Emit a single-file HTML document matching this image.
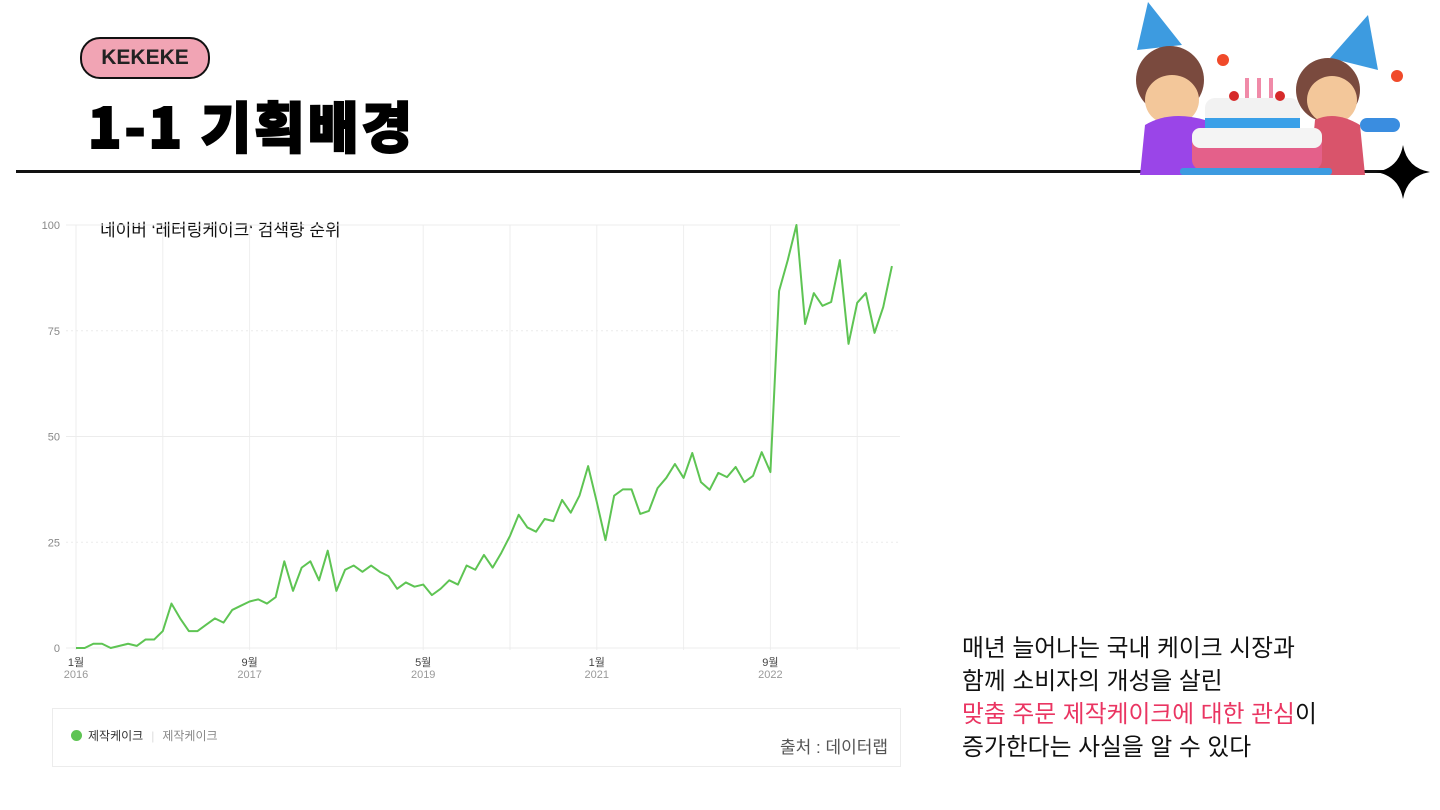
<!DOCTYPE html>
<html><head><meta charset="utf-8">
<style>
body{margin:0;width:1440px;height:810px;background:#fff;position:relative;overflow:hidden;font-family:"Liberation Sans","Noto Sans CJK KR",sans-serif;}
.abs{position:absolute;}
</style></head><body>
<div class="abs" style="left:80px;top:37px;width:126px;height:38px;border:2px solid #111;border-radius:20px;background:#f1a4b4;text-align:center;line-height:38px;font-weight:bold;font-size:21px;color:#222;">KEKEKE</div>
<div class="abs" style="left:88px;top:84px;font-size:55px;font-weight:900;letter-spacing:3px;color:#000;-webkit-text-stroke:2px #000;font-family:'Noto Sans CJK KR',sans-serif;">1-1 기획배경</div>
<div class="abs" style="left:16px;top:170px;width:1390px;height:3px;background:#111;"></div>
<svg class="abs" style="left:1120px;top:0" width="320" height="200">
 <path d="M283,145 Q287,168 310,172 Q287,176 283,199 Q279,176 256,172 Q279,168 283,145Z" fill="#000"/>
 <polygon points="17,50 28,2 62,45" fill="#3d9be0"/>
 <polygon points="210,58 248,15 258,70" fill="#3d9be0"/>
 <circle cx="50" cy="80" r="34" fill="#7a4a3e"/>
 <ellipse cx="52" cy="100" rx="27" ry="25" fill="#f3c79a"/>
 <path d="M20,175 L25,125 Q50,110 85,120 L90,175Z" fill="#9a45e8"/>
 <circle cx="208" cy="90" r="32" fill="#7a4a3e"/>
 <ellipse cx="212" cy="100" rx="25" ry="24" fill="#f3c79a"/>
 <path d="M190,175 L195,120 Q215,110 240,125 L245,175Z" fill="#d9546b"/>
 <rect x="240" y="118" width="40" height="14" rx="7" fill="#3a8de0"/>
 <rect x="85" y="98" width="95" height="30" rx="10" fill="#f2f2f2"/>
 <rect x="85" y="118" width="95" height="10" fill="#3aa0e8"/>
 <rect x="72" y="128" width="130" height="42" rx="10" fill="#e4608a"/>
 <rect x="72" y="128" width="130" height="20" rx="8" fill="#f4f4f4"/>
 <rect x="60" y="168" width="152" height="7" rx="3" fill="#3d9be0"/>
 <rect x="125" y="78" width="4" height="20" fill="#f08aa8"/><rect x="137" y="78" width="4" height="20" fill="#f08aa8"/><rect x="149" y="78" width="4" height="20" fill="#f08aa8"/>
 <circle cx="114" cy="96" r="5" fill="#d62a2a"/><circle cx="160" cy="96" r="5" fill="#d62a2a"/>
 <circle cx="103" cy="60" r="6" fill="#f04a2a"/><circle cx="277" cy="76" r="6" fill="#f04a2a"/>
</svg>

<div class="abs" style="left:100px;top:216px;font-size:17px;color:#111;">네이버 ‘레터링케이크‘ 검색량 순위</div>
<svg class="abs" id="chart" style="left:0;top:0" width="920" height="700"></svg>

<div class="abs" style="left:52px;top:708px;width:847px;height:57px;border:1px solid #ececec;"></div>
<div class="abs" style="left:71px;top:727px;font-size:12px;color:#333;"><span style="display:inline-block;width:11px;height:11px;border-radius:50%;background:#5ec453;vertical-align:-1px;margin-right:6px;"></span>제작케이크<span style="color:#ddd;margin:0 8px;">|</span><span style="color:#888;">제작케이크</span></div>
<div class="abs" style="left:780px;top:733px;font-size:17px;color:#555;">출처 : 데이터랩</div>

<div class="abs" style="left:962px;top:632px;font-size:23.8px;line-height:33px;color:#111;">매년 늘어나는 국내 케이크 시장과<br>함께 소비자의 개성을 살린<br><span style="color:#ea3562;">맞춤 주문 제작케이크에 대한 관심</span>이<br>증가한다는 사실을 알 수 있다</div>

<script>
const yTicks=[0,25,50,75,100];
const xTickMonths=[0,20,40,60,80];
const xTickLabels=["1월","9월","5월","1월","9월"];
const xTickYears=["2016","2017","2019","2021","2022"];
const values=[0,0,1,1,0,0.5,1,0.5,2,2,4,10.5,7,4,4,5.5,7,6,9,10,11,11.5,10.5,12,20.5,13.5,19,20.5,16,23,13.5,18.5,19.5,18,19.5,18,17,14,15.5,14.5,15,12.5,14,16,15,19.5,18.5,22,19,22.5,26.5,31.5,28.5,27.5,30.5,30,35,32,36,43,34.5,25.5,36,37.5,37.5,31.7,32.4,37.8,40.2,43.5,40.2,46.1,39.2,37.4,41.4,40.4,42.8,39.2,40.7,46.3,41.6,84.4,91.7,100,76.6,83.9,80.9,81.8,91.7,71.9,81.6,83.9,74.5,80.6,90.3];
const svg=document.getElementById('chart');const NS='http://www.w3.org/2000/svg';
const x=i=>76+i*8.68, y=v=>648-v*4.23;
function mk(t,a){const e=document.createElementNS(NS,t);for(const k in a)e.setAttribute(k,a[k]);svg.appendChild(e);return e;}
for(let m=0;m<=94;m+=10){const l=mk('line',{x1:x(m),x2:x(m),y1:225,y2:650,stroke:'#eeeeee','stroke-width':1});

}
yTicks.forEach(v=>{const g=mk('line',{x1:66,x2:900,y1:y(v),y2:y(v),stroke:'#ececec','stroke-width':1,'stroke-dasharray':(v%50? '2,3':'')});


const t=mk('text',{x:60,y:y(v)+4,'text-anchor':'end','font-size':11,fill:'#888'});t.textContent=v;

});
xTickMonths.forEach((m,i)=>{const t=mk('text',{x:x(m),y:666,'text-anchor':'middle','font-size':11,fill:'#444'});t.textContent=xTickLabels[i];


const t2=mk('text',{x:x(m),y:678,'text-anchor':'middle','font-size':11,fill:'#999'});t2.textContent=xTickYears[i];

});
const p=mk('polyline',{points:values.map((v,i)=>x(i)+','+y(v)).join(' '),fill:'none',stroke:'#5ec453','stroke-width':2,'stroke-linejoin':'round'});


</script>
</body></html>
